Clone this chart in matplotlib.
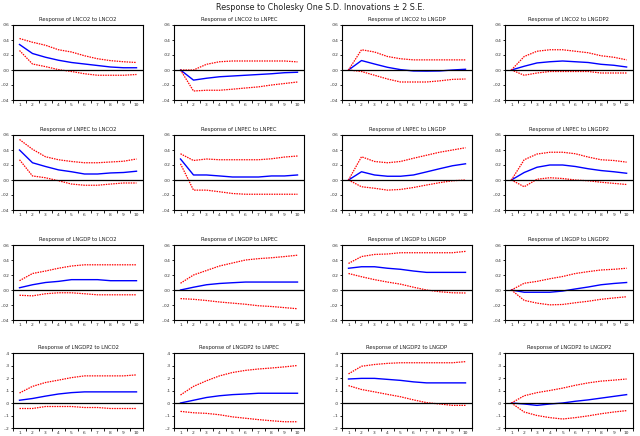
import matplotlib
matplotlib.use("Agg")
import matplotlib.pyplot as plt
import numpy as np

periods = list(range(1, 11))
variables = ["LNCO2", "LNPEC", "LNGDP", "LNGDP2"]
main_title = "Response to Cholesky One S.D. Innovations \u00b1 2 S.E."

# responses[(response, impulse)] = (blue, upper, lower)
responses = {
    ("LNCO2", "LNCO2"): (
        [0.034, 0.022, 0.017, 0.013, 0.010, 0.008, 0.006, 0.004, 0.003, 0.003],
        [0.042, 0.037, 0.033, 0.027, 0.024, 0.019, 0.015, 0.0125, 0.011, 0.010],
        [0.026, 0.008, 0.0045, 0.0005, -0.002, -0.005, -0.007, -0.007, -0.007, -0.006]),
    ("LNCO2", "LNPEC"): (
        [0.0, -0.0135, -0.011, -0.009, -0.008, -0.007, -0.006, -0.005, -0.0036, -0.003],
        [0.0, 0.0, 0.0076, 0.011, 0.012, 0.012, 0.012, 0.012, 0.012, 0.0108],
        [0.0, -0.028, -0.027, -0.027, -0.0256, -0.024, -0.0225, -0.020, -0.018, -0.016]),
    ("LNCO2", "LNGDP"): (
        [0.0, 0.0126, 0.008, 0.0036, 0.0005, -0.0013, -0.0015, -0.0013, 0.0, 0.001],
        [0.0, 0.027, 0.024, 0.018, 0.015, 0.0135, 0.0135, 0.0135, 0.0135, 0.0135],
        [0.0, -0.002, -0.007, -0.012, -0.016, -0.016, -0.016, -0.0145, -0.0125, -0.012]),
    ("LNCO2", "LNGDP2"): (
        [0.0, 0.005, 0.0094, 0.011, 0.012, 0.011, 0.010, 0.0076, 0.0063, 0.004],
        [0.0, 0.018, 0.025, 0.027, 0.027, 0.025, 0.023, 0.019, 0.017, 0.0135],
        [0.0, -0.007, -0.004, -0.002, -0.002, -0.002, -0.002, -0.004, -0.004, -0.004]),
    ("LNPEC", "LNCO2"): (
        [0.040, 0.023, 0.018, 0.0135, 0.011, 0.008, 0.008, 0.0094, 0.010, 0.0117],
        [0.054, 0.041, 0.031, 0.027, 0.0247, 0.023, 0.023, 0.024, 0.025, 0.028],
        [0.027, 0.0054, 0.003, -0.001, -0.0054, -0.007, -0.007, -0.0054, -0.004, -0.004]),
    ("LNPEC", "LNPEC"): (
        [0.028, 0.0067, 0.0067, 0.0054, 0.004, 0.004, 0.004, 0.0054, 0.0054, 0.0067],
        [0.035, 0.026, 0.028, 0.027, 0.027, 0.027, 0.027, 0.0283, 0.0306, 0.032],
        [0.0216, -0.0135, -0.0135, -0.0157, -0.018, -0.019, -0.019, -0.019, -0.019, -0.019]),
    ("LNPEC", "LNGDP"): (
        [0.0, 0.011, 0.0067, 0.005, 0.005, 0.0067, 0.0108, 0.015, 0.019, 0.0216],
        [0.0, 0.031, 0.0247, 0.023, 0.0247, 0.029, 0.033, 0.037, 0.040, 0.043],
        [0.0, -0.009, -0.011, -0.0135, -0.0126, -0.010, -0.0067, -0.0036, -0.001, 0.0]),
    ("LNPEC", "LNGDP2"): (
        [0.0, 0.010, 0.017, 0.020, 0.020, 0.018, 0.015, 0.0126, 0.011, 0.009],
        [0.0, 0.027, 0.0346, 0.037, 0.037, 0.035, 0.0306, 0.027, 0.026, 0.0238],
        [0.0, -0.009, 0.001, 0.003, 0.002, 0.0, -0.001, -0.003, -0.0045, -0.006]),
    ("LNGDP", "LNCO2"): (
        [0.003, 0.007, 0.010, 0.0115, 0.0138, 0.0138, 0.0138, 0.0124, 0.0124, 0.0124],
        [0.0124, 0.022, 0.0253, 0.029, 0.032, 0.0336, 0.0336, 0.0336, 0.0336, 0.0336],
        [-0.007, -0.0078, -0.005, -0.0037, -0.0037, -0.005, -0.0064, -0.0064, -0.0064, -0.0064]),
    ("LNGDP", "LNPEC"): (
        [0.0, 0.0037, 0.007, 0.0087, 0.0097, 0.0106, 0.0106, 0.0106, 0.0106, 0.0106],
        [0.009, 0.020, 0.026, 0.032, 0.036, 0.040, 0.0418, 0.043, 0.0446, 0.0464],
        [-0.0115, -0.0124, -0.014, -0.016, -0.0175, -0.019, -0.021, -0.022, -0.0235, -0.025]),
    ("LNGDP", "LNGDP"): (
        [0.029, 0.031, 0.031, 0.029, 0.0276, 0.0253, 0.0235, 0.0235, 0.0235, 0.0235],
        [0.0354, 0.0446, 0.0474, 0.048, 0.0497, 0.0497, 0.0497, 0.0497, 0.0497, 0.0515],
        [0.022, 0.0177, 0.0138, 0.0106, 0.0078, 0.0037, 0.0, -0.0023, -0.0037, -0.004]),
    ("LNGDP", "LNGDP2"): (
        [0.0, -0.003, -0.003, -0.003, -0.0014, 0.0014, 0.004, 0.007, 0.0087, 0.010],
        [0.0, 0.009, 0.0115, 0.015, 0.018, 0.022, 0.0245, 0.0267, 0.0276, 0.029],
        [0.0, -0.0138, -0.0175, -0.0198, -0.0193, -0.017, -0.015, -0.0124, -0.0106, -0.009]),
    ("LNGDP2", "LNCO2"): (
        [0.022, 0.036, 0.055, 0.072, 0.083, 0.089, 0.089, 0.089, 0.089, 0.089],
        [0.080, 0.133, 0.164, 0.183, 0.203, 0.217, 0.217, 0.217, 0.217, 0.225],
        [-0.044, -0.044, -0.028, -0.028, -0.028, -0.036, -0.036, -0.044, -0.044, -0.044]),
    ("LNGDP2", "LNPEC"): (
        [0.0, 0.022, 0.044, 0.058, 0.067, 0.072, 0.078, 0.078, 0.078, 0.078],
        [0.064, 0.133, 0.178, 0.217, 0.244, 0.261, 0.272, 0.280, 0.289, 0.300],
        [-0.067, -0.078, -0.083, -0.094, -0.111, -0.122, -0.133, -0.142, -0.150, -0.150]),
    ("LNGDP2", "LNGDP"): (
        [0.192, 0.197, 0.197, 0.189, 0.181, 0.169, 0.161, 0.161, 0.161, 0.161],
        [0.233, 0.294, 0.308, 0.317, 0.322, 0.322, 0.322, 0.322, 0.322, 0.331],
        [0.139, 0.108, 0.089, 0.069, 0.050, 0.025, 0.003, -0.008, -0.019, -0.019]),
    ("LNGDP2", "LNGDP2"): (
        [0.0, -0.008, -0.019, -0.008, 0.0, 0.014, 0.025, 0.039, 0.053, 0.067],
        [0.0, 0.058, 0.083, 0.100, 0.119, 0.142, 0.161, 0.175, 0.183, 0.192],
        [0.0, -0.072, -0.100, -0.117, -0.128, -0.117, -0.103, -0.086, -0.072, -0.061]),
}

yticks_small = [-0.04, -0.02, 0.00, 0.02, 0.04, 0.06]
yticklabels_small = ["-.04", "-.02", ".00", ".02", ".04", ".06"]
yticks_big = [-0.2, -0.1, 0.0, 0.1, 0.2, 0.3, 0.4]
yticklabels_big = ["-.2", "-.1", ".0", ".1", ".2", ".3", ".4"]

W, H = 640, 436
fig = plt.figure(figsize=(6.4, 4.36), dpi=100)
fig.patch.set_facecolor("white")

col_left = [13, 174, 342, 505]
col_width = [130, 130, 130, 128]
row_top = [25, 135, 245, 353]
row_height = 75

fig.text(320 / W, 1 - 7 / H, main_title, ha="center", va="center",
         fontsize=5.8, color="#222222")

boundaries = [p - 0.5 for p in periods] + [periods[-1] + 0.5]

for r, rv in enumerate(variables):
    for c, cv in enumerate(variables):
        left = col_left[c] / W
        bottom = 1 - (row_top[r] + row_height) / H
        ax = fig.add_axes([left, bottom, col_width[c] / W, row_height / H])
        blue, upper, lower = responses[(rv, cv)]
        ax.plot(periods, blue, color="#0000ff", lw=1.0)
        ax.plot(periods, upper, color="#ff0000", lw=0.9, ls=(0, (1.2, 0.8)))
        ax.plot(periods, lower, color="#ff0000", lw=0.9, ls=(0, (1.2, 0.8)))
        ax.axhline(0, color="black", lw=0.9)
        ax.set_xlim(0.5, 10.5)
        if r < 3:
            ax.set_ylim(-0.04, 0.06)
            ax.set_yticks(yticks_small)
            ax.set_yticklabels(yticklabels_small)
        else:
            ax.set_ylim(-0.2, 0.4)
            ax.set_yticks(yticks_big)
            ax.set_yticklabels(yticklabels_big)
        # tick marks between periods, labels centred on periods
        ax.set_xticks(boundaries)
        ax.set_xticklabels([])
        ax.set_xticks(periods, minor=True)
        ax.set_xticklabels([str(p) for p in periods], minor=True)
        ax.tick_params(axis="x", which="major", length=2, width=0.6,
                       direction="out")
        ax.tick_params(axis="x", which="minor", length=0, labelsize=3.2,
                       pad=2.5, labelcolor="#333333")
        ax.tick_params(axis="y", labelsize=3.2, length=1.5, width=0.6,
                       pad=1.2, labelcolor="#333333")
        for sp in ax.spines.values():
            sp.set_linewidth(0.8)
            sp.set_color("black")
        ax.set_title(f"Response of {rv} to {cv}", fontsize=3.8, pad=3,
                     color="#222222")

fig.savefig("out.png", dpi=100, facecolor="white")
